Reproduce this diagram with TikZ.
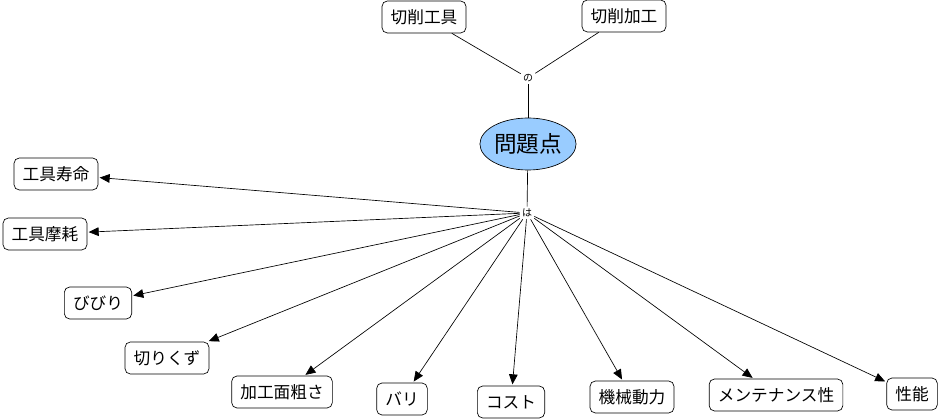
\documentclass[tikz,border=0pt]{standalone}
\usepackage{fontspec}
\setmainfont{Noto Sans CJK JP}
\usetikzlibrary{arrows.meta,shapes.geometric}

\begin{document}
\begin{tikzpicture}[x=0.75pt,y=-0.75pt,line width=0.5pt]

\tikzstyle{concept}=[draw,rounded corners=4pt,fill=white,font=\fontsize{12.5}{14}\selectfont,minimum height=24pt,inner xsep=6.5pt,anchor=center];
\tikzstyle{link}=[font=\fontsize{7.5}{9}\selectfont,inner sep=1.5pt,anchor=center];

\useasboundingbox (0,0) rectangle (943,420);

% Draw the main concept
\node[draw,ellipse,fill={rgb,255:red,153;green,204;blue,255},font=\fontsize{17}{19}\selectfont,minimum width=72pt,minimum height=39pt,inner sep=0pt] (prob) at (528,144) {問題点};

% Draw the link words
\node[link] (no) at (528,78) {の};
\node[link] (ha) at (527,213) {は};

% Draw the concept nodes
\node[concept] (tool) at (424,17) {切削工具};
\node[concept] (cut) at (624,16) {切削加工};
\node[concept] (life) at (56,174) {工具寿命};
\node[concept] (wear) at (45,234) {工具摩耗};
\node[concept] (chat) at (98,303) {びびり};
\node[concept] (chip) at (167,358) {切りくず};
\node[concept] (rough) at (282,392) {加工面粗さ};
\node[concept] (burr) at (402,399) {バリ};
\node[concept] (cost) at (511,402) {コスト};
\node[concept] (power) at (632,397) {機械動力};
\node[concept] (maint) at (776,395) {メンテナンス性};
\node[concept] (perf) at (912,394) {性能};

% Plain connections
\draw (tool) -- (no);
\draw (cut) -- (no);
\draw (no) -- (prob);
\draw (prob) -- (ha);

\tikzset{every edge/.append style = {-{Triangle[length=7.5pt,width=6.5pt]},shorten >=1pt}};

% Connections to the problems
\path
  (ha) edge (life)
  (ha) edge (wear)
  (ha) edge (chat)
  (ha) edge (chip)
  (ha) edge (rough)
  (ha) edge (burr)
  (ha) edge (cost)
  (ha) edge (power)
  (ha) edge (maint)
  (ha) edge (perf);

\end{tikzpicture}
\end{document}
